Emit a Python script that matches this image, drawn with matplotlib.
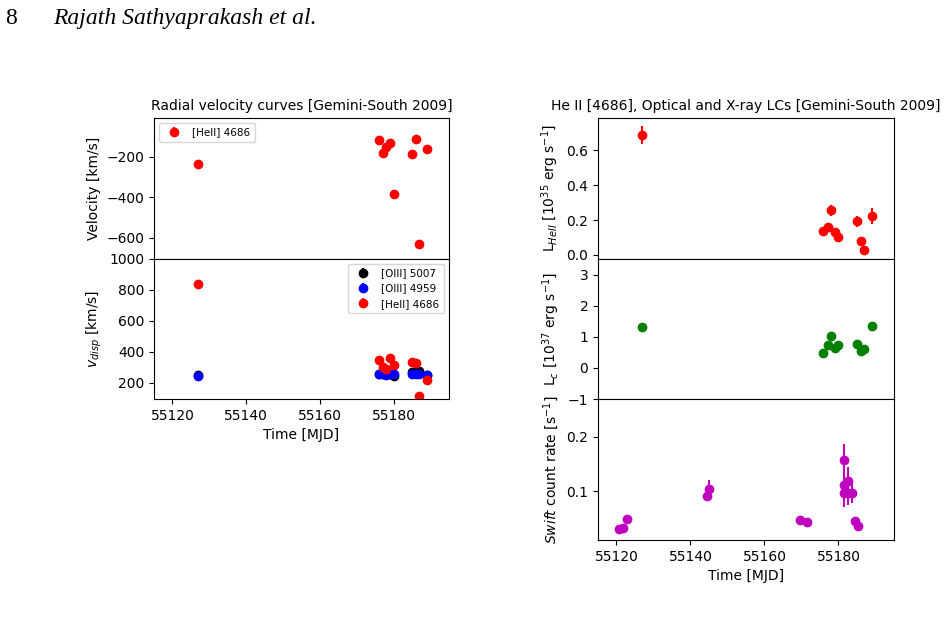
import numpy as np
import matplotlib
matplotlib.use("Agg")
import matplotlib.pyplot as plt
from matplotlib.ticker import NullLocator, FixedLocator, FixedFormatter

# Gemini-South 2009 epochs (MJD)
t_gem = [55126.9, 55175.9, 55177.1, 55178.0, 55179.1, 55180.0, 55185.0, 55186.0, 55187.0, 55189.0]

# Radial velocity of [HeII] 4686 (km/s)
vel_heii = [-235, -117, -179, -149, -132, -384, -187, -113, -630, -160]
vel_heii_err = [6, 6, 6, 6, 6, 6, 6, 6, 6, 6]

# Velocity dispersion (km/s)
disp_o5007 = [248, 256, 255, 254, 257, 245, 272, 273, 274, 250]
disp_o4959 = [245, 255, 254, 252, 255, 254, 256, 255, 254, 251]
disp_heii = [837, 348, 301, 288, 359, 316, 331, 327, 112, 219]
disp_err = [5, 5, 5, 5, 5, 5, 5, 5, 5, 5]

# HeII luminosity (1e35 erg/s)
l_heii = [0.688, 0.139, 0.159, 0.256, 0.132, 0.101, 0.193, 0.082, 0.029, 0.223]
l_heii_err = [0.052, 0.01, 0.012, 0.03, 0.015, 0.025, 0.03, 0.01, 0.006, 0.045]

# Continuum luminosity (1e37 erg/s)
l_cont = [1.31, 0.48, 0.74, 1.01, 0.64, 0.72, 0.76, 0.54, 0.61, 1.36]
l_cont_err = [0.02, 0.02, 0.02, 0.02, 0.02, 0.02, 0.02, 0.02, 0.02, 0.02]

# Swift count rate (1/s)
t_swift = [55120.6, 55121.8, 55122.9, 55144.4, 55145.1, 55169.5, 55171.4,
           55181.6, 55182.5, 55181.6, 55181.6, 55182.7, 55183.7, 55184.5, 55185.3]
rate_swift = [0.0621, 0.0631, 0.0705, 0.0947, 0.1035, 0.0692, 0.0675,
              0.148, 0.1135, 0.109, 0.098, 0.098, 0.0985, 0.0685, 0.0648]
rate_swift_err = [0.002, 0.002, 0.003, 0.004, 0.012, 0.003, 0.002,
                  0.033, 0.022, 0.02, 0.016, 0.014, 0.012, 0.003, 0.002]

xlim = (55115, 55195)

fig = plt.figure(figsize=(9.48, 6.19), dpi=100)

# page header
fig.text(0.005, 0.962, "8", family="Liberation Serif", fontsize=17, va="baseline")
fig.text(0.056, 0.962, "Rajath Sathyaprakash et al.", family="Liberation Serif",
         style="italic", fontsize=17, va="baseline")

###################################################################
# Left column: radial velocity and dispersion
ax1 = fig.add_axes([0.1624, 0.5816, 0.3112, 0.2278])
ax1.errorbar(t_gem, vel_heii, yerr=vel_heii_err, fmt="o", color="r", label="[HeII] 4686")
ax1.set_xlim(xlim)
ax1.set_ylim(-705, -8)
ax1.set_xticklabels([])
ax1.set_ylabel("Velocity [km/s]")
ax1.set_title("Radial velocity curves [Gemini-South 2009]", fontsize=10)
ax1.legend(loc="upper left", fontsize=7.5)

ax2 = fig.add_axes([0.1624, 0.3554, 0.3112, 0.2262])
ax2.errorbar(t_gem, disp_o5007, yerr=disp_err, fmt="o", color="k", label="[OIII] 5007")
ax2.errorbar(t_gem, disp_o4959, yerr=disp_err, fmt="o", color="b", label="[OIII] 4959")
ax2.errorbar(t_gem, disp_heii, yerr=disp_err, fmt="o", color="r", label="[HeII] 4686")
ax2.set_xlim(xlim)
ax2.set_ylim(95, 1000)
ax2.set_yticks([200, 400, 600, 800, 1000])
ax2.set_xticks([55120, 55140, 55160, 55180])
ax2.set_ylabel("$v_{disp}$ [km/s]")
ax2.set_xlabel("Time [MJD]")
ax2.legend(loc="upper right", fontsize=7.5)

###################################################################
# Right column: HeII, optical continuum and X-ray light curves
ax3 = fig.add_axes([0.6308, 0.5816, 0.3122, 0.2278])
ax3.errorbar(t_gem, l_heii, yerr=l_heii_err, fmt="o", color="r")
ax3.set_xlim(xlim)
ax3.set_ylim(-0.023, 0.785)
ax3.set_xticklabels([])
ax3.set_ylabel("L$_{HeII}$ [10$^{35}$ erg s$^{-1}$]")
ax3.set_title("He II [4686], Optical and X-ray LCs [Gemini-South 2009]", fontsize=10)

ax4 = fig.add_axes([0.6308, 0.3554, 0.3122, 0.2262])
ax4.errorbar(t_gem, l_cont, yerr=l_cont_err, fmt="o", color="g")
ax4.set_xlim(xlim)
ax4.set_ylim(-1, 3.5)
ax4.set_yticks([-1, 0, 1, 2, 3])
ax4.set_xticklabels([])
ax4.set_ylabel("L$_c$ [10$^{37}$ erg s$^{-1}$]")

ax5 = fig.add_axes([0.6308, 0.1276, 0.3122, 0.2278])
ax5.errorbar(t_swift, rate_swift, yerr=rate_swift_err, fmt="o", color="m")
ax5.set_yscale("log")
ax5.set_xlim(xlim)
ax5.set_ylim(0.054, 0.322)
ax5.yaxis.set_major_locator(FixedLocator([0.1, 0.2]))
ax5.yaxis.set_major_formatter(FixedFormatter(["0.1", "0.2"]))
ax5.yaxis.set_minor_locator(NullLocator())
ax5.set_xticks([55120, 55140, 55160, 55180])
ax5.set_ylabel("$Swift$ count rate [s$^{-1}$]")
ax5.set_xlabel("Time [MJD]")

fig.align_ylabels([ax3, ax4, ax5])
fig.align_ylabels([ax1, ax2])

plt.savefig("out.png", dpi=100)
plt.close()
